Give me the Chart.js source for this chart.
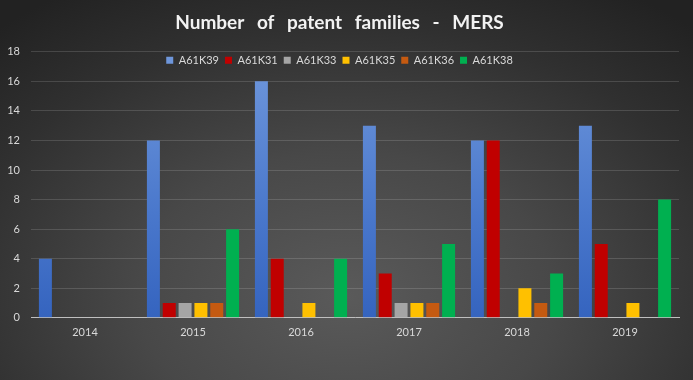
<!DOCTYPE html>
<html>
<head>
<meta charset="utf-8">
<script src="https://cdn.jsdelivr.net/npm/chart.js@4/dist/chart.umd.min.js"></script>
<style>
  html, body { margin: 0; padding: 0; }
  body {
    width: 693px; height: 380px; overflow: hidden;
    background: radial-gradient(ellipse 75% 95% at 50% 78%, #5a5a5a 0%, #484848 40%, #303030 75%, #222222 100%);
  }
  #wrap { position: relative; width: 693px; height: 380px; }
</style>
</head>
<body>
<div id="wrap"><canvas id="c" width="693" height="380"></canvas></div>
<script>
const categories = ["2014", "2015", "2016", "2017", "2018", "2019"];
const seriesNames = ["A61K39", "A61K31", "A61K33", "A61K35", "A61K36", "A61K38"];
const A61K39 = [4, 12, 16, 13, 12, 13];
const A61K31 = [0, 1, 4, 3, 12, 5];
const A61K33 = [0, 1, 0, 1, 0, 0];
const A61K35 = [0, 1, 1, 1, 2, 1];
const A61K36 = [0, 1, 0, 1, 1, 0];
const A61K38 = [0, 6, 4, 5, 3, 8];
const yTicks = [0, 2, 4, 6, 8, 10, 12, 14, 16, 18];

const seriesValues = [A61K39, A61K31, A61K33, A61K35, A61K36, A61K38];
const colors = ["#4472c4", "#c00000", "#a5a5a5", "#ffc000", "#c55a11", "#00b050"];

function blueGradient(ctx) {
  const chart = ctx.chart;
  const area = chart.chartArea;
  if (!area) return colors[0];
  const g = chart.ctx.createLinearGradient(0, area.top, 0, area.bottom);
  g.addColorStop(0, "#7098dc");
  g.addColorStop(0.6, "#4a78cc");
  g.addColorStop(1, "#3564bf");
  return g;
}

const datasets = seriesNames.map((name, i) => ({
  label: name,
  data: seriesValues[i],
  backgroundColor: i === 0 ? blueGradient : colors[i],
  borderWidth: 0,
  categoryPercentage: 0.88,
  barPercentage: 0.82
}));

// Legend overlays the top of the plot area (as in the original)
const legendOverlay = {
  id: "legendOverlay",
  beforeLayout(chart) {
    const lg = chart.legend;
    if (lg && !lg._patched) {
      const f = lg.fit;
      lg.fit = function () { f.call(this); this._realH = this.height; this.height = 0; };
      lg._patched = true;
    }
  },
  beforeDraw(chart) {
    chart.ctx.wordSpacing = "8px";
    const lg = chart.legend;
    if (lg) {
      lg.top = chart.chartArea.top - 3;
      lg.bottom = lg.top + (lg._realH || 20);
    }
  }
};

Chart.defaults.font.family = "Lato, 'Open Sans', sans-serif";

new Chart(document.getElementById("c"), {
  type: "bar",
  data: { labels: categories, datasets },
  plugins: [legendOverlay],
  options: {
    responsive: false,
    animation: false,
    devicePixelRatio: 1,
    layout: { padding: { left: 0, right: 14, top: 6, bottom: 33 } },
    plugins: {
      title: {
        display: true,
        text: "Number of patent families - MERS",
        color: "#f2f2f2",
        font: { size: 19, weight: "bold", family: "Lato, 'Open Sans', sans-serif" },
        padding: { top: 5, bottom: 18 }
      },
      legend: {
        position: "top",
        align: "center",
        labels: {
          color: "#d9d9d9",
          font: { size: 11 },
          boxWidth: 7,
          boxHeight: 7,
          padding: 6
        }
      },
      tooltip: { enabled: false }
    },
    scales: {
      x: {
        grid: { display: false, drawTicks: false },
        border: { color: "#bfbfbf", width: 1 },
        ticks: { color: "#d9d9d9", font: { size: 11 }, padding: 8 }
      },
      y: {
        min: 0, max: 18,
        afterBuildTicks: (axis) => { axis.ticks = yTicks.map(v => ({ value: v })); },
        afterFit: (axis) => { axis.width = 31; },
        grid: { color: "rgba(255,255,255,0.14)", drawTicks: false },
        border: { display: false },
        ticks: { color: "#d9d9d9", font: { size: 11 }, padding: 11 }
      }
    }
  }
});
</script>
</body>
</html>
